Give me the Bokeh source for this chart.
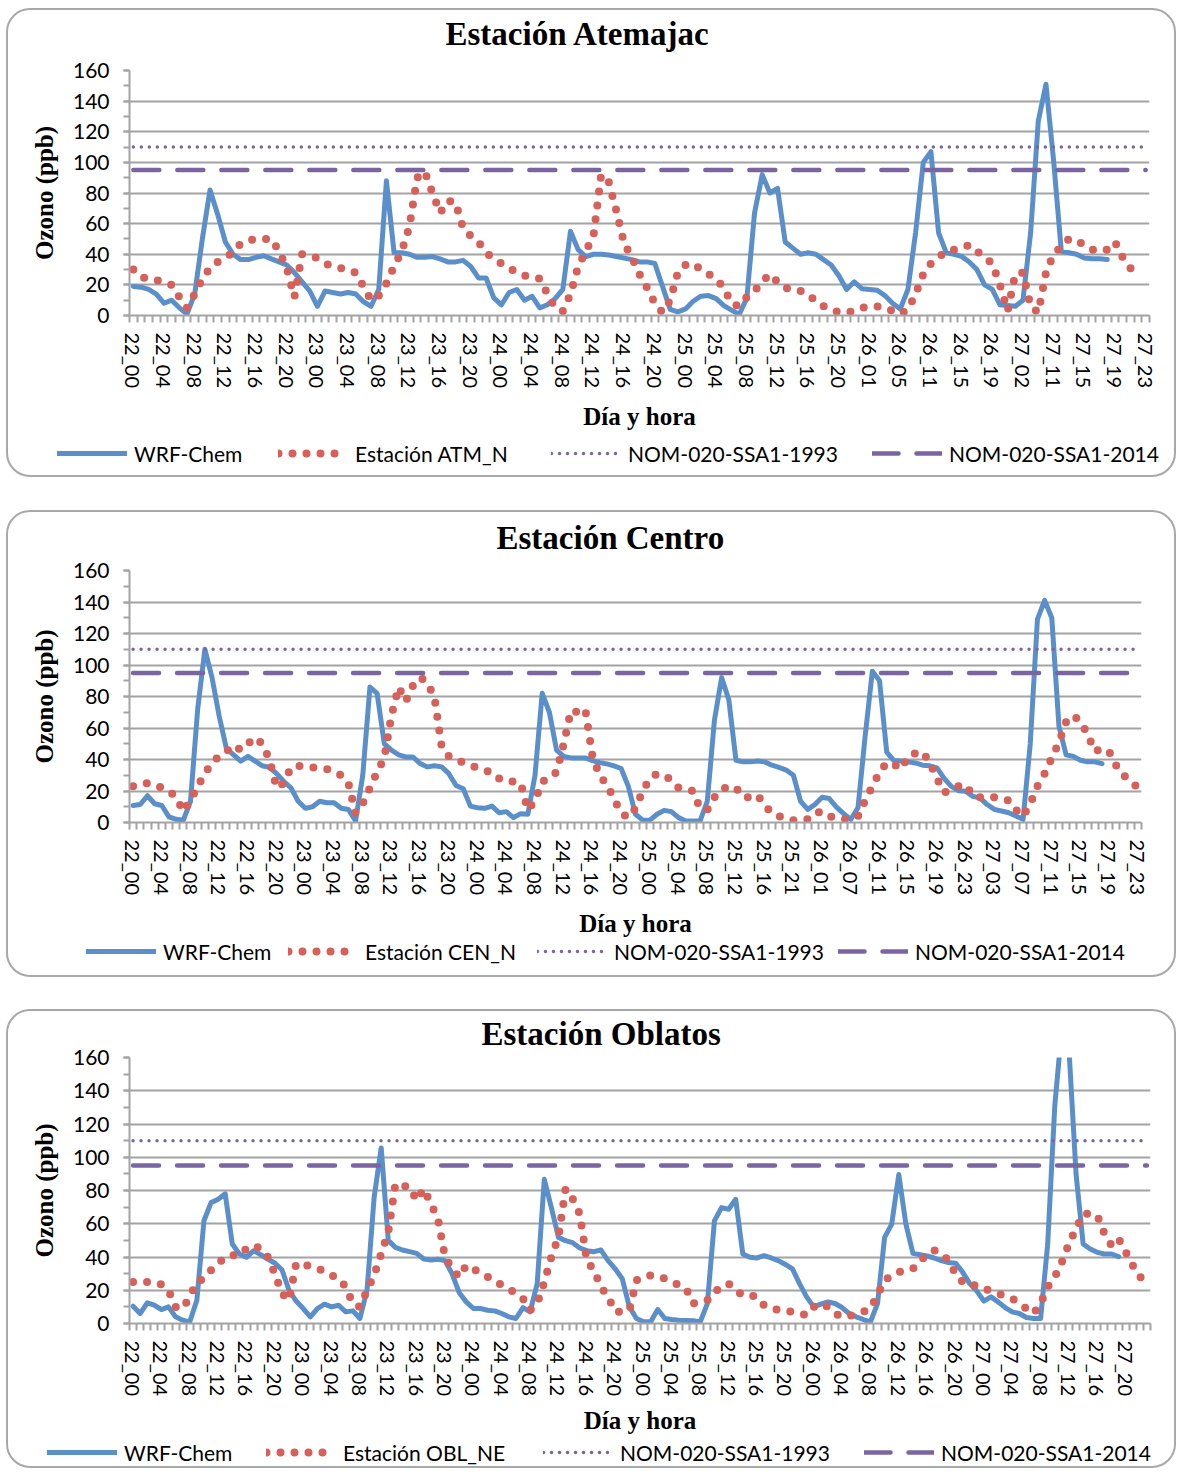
import math
from bokeh.plotting import figure
from bokeh.models import FixedTicker, SingleIntervalTicker, Legend, LegendItem, Range1d, Title
from bokeh.layouts import column
from bokeh.embed import file_html
from bokeh.resources import INLINE

# ---------------- data ----------------
DAYS = ["22", "23", "24", "25", "26", "27"]
ALL_HOURS = [f"{d}_{h:02d}" for d in DAYS for h in range(24)]

missing_atm = ["26_00", "26_06", "26_07", "26_23", "27_00", "27_01",
               "27_03", "27_04", "27_05", "27_06", "27_07"]
missing_cen = ["25_20", "26_04", "26_05"]
missing_obl = []

cats_atm = [c for c in ALL_HOURS if c not in missing_atm]
cats_cen = [c for c in ALL_HOURS if c not in missing_cen]
cats_obl = [c for c in ALL_HOURS if c not in missing_obl]

wrf_atm = [19, 18.5, 17, 14, 8, 10, 5, 1, 14, 50,
           82, 66, 48, 40, 36.5, 36.5, 38, 39, 37, 35,
           33, 28, 22, 16, 6, 16, 15, 14, 15, 14,
           9, 6, 17, 88, 41, 41, 40, 38, 38, 38.5,
           37, 35, 35, 36, 32, 24.5, 24.5, 11.5, 7, 15,
           17, 10, 12.5, 5, 7, 11, 17, 55, 43, 38.5,
           40, 40, 39.5, 38.5, 37.5, 36.5, 35, 35, 34, 19,
           4, 2.4, 4.3, 9.3, 12.6, 13, 11, 6.5, 3.5, 0.7,
           11.5, 67, 92, 80, 83, 48, 44, 40, 41, 40,
           36.5, 33, 26, 17, 22, 17.5, 17, 16.5, 13, 8,
           4.3, 17, 54, 100, 107, 54, 41, 40, 38.6, 35,
           30, 20, 17, 7, 6.5, 6, 10, 54, 127, 151,
           101, 42, 41, 40, 37.5, 37, 37, 36.5]
obs_atm = [30, 25, 24, 23, 22, 20, 12, 5, 14, 24,
           31, 35, 38, 41, 47, 49, 50, 50, 50, 42,
           31, 12, 40, 39, 37.5, 34, 32, 31, 30, 28,
           19, 10, 13, 21, 32, 42, 58, 90, 94, 80,
           67, 75, 74, 57, 52, 48, 41, 37, 34, 31,
           28, 26, 25, 24, 14, 5, 3, 14, 32, 42,
           52, 92, 87, 68, 47, 38, 27, 18, 8, 2,
           10, 28, 33, 34, 30, 27, 24, 18, 8, 6,
           12, 16, 22, 27, 22, 18, 17, 16, 14, 9,
           6, 4, 2, 2, 3, 5, 6, 6, 5, 3,
           1, 4, 14, 27, 34, 38, 42, 43, 44, 46,
           42, 38, 34, 20, 3, 27, 28, 6, 2, 28,
           40, 45, 50, 49, 46, 43, 42, 43, 48, 38, 31, 27]

wrf_cen = [10.8, 11.4, 17, 11.9, 10.8, 3.5, 2, 1.5, 13.5, 72,
           110, 92, 67.5, 47, 43, 39, 42, 39, 36, 35,
           31, 26, 22, 13.5, 9, 10, 13.5, 12.5, 12.5, 9,
           8.3, 1, 30, 86, 82, 50, 46, 43, 41.6, 41.6,
           37.4, 35.3, 36, 35.3, 31, 23.5, 21.4, 10.4, 9.4, 9,
           10.4, 6.2, 6.9, 3.1, 5.6, 5.2, 30, 82, 70, 46,
           42, 41, 41, 41, 39.3, 38, 37.2, 36, 34.3, 22.9,
           5.2, 1.5, 1.5, 5.2, 7.7, 6.9, 3.1, 1, 1, 1,
           13.5, 65, 92, 78, 39.5, 38.5, 38.5, 39, 38.5, 36.4,
           35, 33.3, 30, 13.5, 8.3, 11.4, 16, 15.2, 9.8, 5.6,
           2, 9.4, 55, 96, 90, 44.7, 39.3, 39, 38.5, 37.8,
           36.4, 36, 34.7, 28, 22.9, 20.2, 19.8, 16.6, 15.6, 11.4,
           8.3, 7.3, 6.2, 4.2, 2, 50, 129, 141, 130, 61,
           43, 42, 39.5, 38.5, 38.5, 37.4]
obs_cen = [23, 24, 25, 24, 22, 20, 16, 7, 14, 23,
           31, 38, 42, 45, 49, 46, 50, 54, 50, 40,
           22, 25, 35, 36, 35, 35, 34.5, 34, 32, 30,
           25, 6, 12, 22, 32, 41, 68, 86, 77, 87,
           92, 89, 79, 48, 42, 40, 38, 36, 35, 33,
           32, 28, 26, 26, 25, 8, 14, 26, 28, 32,
           50, 71, 70, 72, 42, 30, 24, 15, 6, 3,
           9, 20, 28, 31, 30, 27, 22, 21, 20, 9,
           8, 16, 21, 23, 22, 16, 16, 17.5, 11, 6,
           4, 2.5, 1.5, 2, 2, 6, 7, 4, 2.5, 2,
           2.5, 4, 14, 23, 32, 38, 37, 34, 42, 44,
           45, 38, 28, 19, 21, 23, 24, 17, 16, 16,
           16, 15.5, 14, 8, 4, 12, 23, 31, 41, 51,
           64, 68, 64, 56, 45, 47, 45, 36, 30, 26, 22]

wrf_obl = [10.4, 6, 12.4, 11, 8.4, 10, 4, 2, 1, 14,
           61.8, 72.7, 74.7, 78, 47.8, 41.8, 39.8, 43.8, 41.4, 38.8,
           36.3, 32.3, 20, 13.5, 9, 4, 9, 11.6, 10, 11,
           7, 7.6, 3, 20, 75.7, 105.6, 50, 45.8, 44.2, 43.2,
           42.2, 38.8, 38.2, 38.6, 37.8, 29.9, 18.5, 13, 9, 9,
           8, 7.6, 6, 4, 3, 9.6, 7, 24, 86.7, 69.7,
           51.8, 49.8, 48.6, 45.4, 43.8, 43.2, 44.2, 37.8, 32.9, 26.9,
           10, 3, 1, 1, 8.4, 3, 2.4, 2, 1.8, 1.6,
           1, 12, 61.8, 69.7, 68.7, 74.7, 41.8, 39.8, 39.4, 40.8,
           39.4, 37.8, 35.5, 32.9, 24, 16, 10, 11.6, 13, 12,
           9.6, 6, 4, 2.4, 1, 12, 51.8, 59.8, 89.6, 59.8,
           42.2, 41.4, 40.6, 39.4, 37.8, 36.7, 36.3, 30.9, 24, 19.5,
           13.5, 16, 13, 9.6, 7, 6, 3.6, 3, 3, 47.8,
           131, 178, 165, 90, 47.8, 44.8, 42.8, 41.8, 41.8, 40.2]
obs_obl = [25, 25, 25, 24, 23.5, 20, 10, 9, 16, 25,
           27, 32, 36, 40, 41, 41, 45, 47, 45, 40,
           30, 18, 14, 36, 36, 34, 33, 31.5, 29, 27,
           22, 12, 10, 20, 29, 42, 55, 84, 83, 82,
           74, 81, 72, 63, 40, 33, 28, 35, 33, 30,
           28, 26, 23, 21, 18, 15, 8, 12, 25, 40,
           52, 81, 75, 66, 38, 32, 22, 16, 7, 7,
           8, 26, 28, 29, 28, 27, 25, 23, 21, 12,
           13, 14, 19, 22, 24, 20, 17, 17, 16, 11,
           10, 8, 7.5, 7, 6, 5, 10, 12, 10, 6,
           4, 4.5, 5.5, 7, 9, 17, 26, 29, 31, 32,
           33, 38, 41, 44, 42, 38, 30, 25, 25, 22,
           21, 19.5, 18, 16.5, 15, 12, 9, 6, 12, 22,
           28, 37, 48, 57, 66, 66, 65, 54, 47, 51, 43, 35, 28, 26]

NOM_1993 = 110
NOM_2014 = 95

# ---------------- styles ----------------
BLUE = "#5b8fca"
RED = "#d6605a"
PURPLE = "#7a65a0"
GRID = "#a3a3a3"
SANS = "Lato"
SERIF = "Liberation Serif"
W = 1166
LEFT = 121
PAGE_X0 = 8          # 6 px margin + 2 px border
FRAME_LEFT_PAGE = PAGE_X0 + LEFT

STYLE_WRF = dict(line_color=BLUE, line_width=5, line_join="round", line_cap="round")
STYLE_OBS = dict(line_color=RED, line_width=8, line_dash="0 14", line_cap="round")
STYLE_93 = dict(line_color=PURPLE, line_width=3.5, line_dash="0 8", line_cap="round")
STYLE_14 = dict(line_color=PURPLE, line_width=4.5, line_dash="26 18", line_cap="round")


def make_chart(title, cats, wrf, obs, *, chart_h, top, frame_h, frame_w,
               title_left, title_gap, xlabel_standoff):
    n = len(cats)
    right = W - LEFT - frame_w
    bottom = chart_h - top - frame_h
    p = figure(width=W, height=chart_h, x_range=Range1d(-0.5, n - 0.5),
               y_range=Range1d(0, 160), output_backend="svg", toolbar_location=None,
               min_border_left=LEFT, min_border_right=right,
               min_border_top=top, min_border_bottom=bottom)
    p.frame_align = False
    p.border_fill_color = None
    p.background_fill_color = None
    p.outline_line_color = None

    # invisible spacer between frame and title, then the title itself
    p.add_layout(Title(text=" ", text_font_size="1px", standoff=title_gap), "above")
    p.add_layout(Title(text=title, text_font=SERIF, text_font_style="bold",
                       text_font_size="33px", text_color="black", align="left",
                       offset=title_left - FRAME_LEFT_PAGE, standoff=2), "above")

    p.xaxis.ticker = FixedTicker(ticks=list(range(0, n, 4)),
                                 minor_ticks=[k - 0.5 for k in range(n + 1)])
    p.xaxis.major_label_overrides = {i: cats[i] for i in range(0, n, 4)}
    p.xaxis.major_label_orientation = "vertical"
    p.xaxis.major_tick_out = 0
    p.xaxis.major_tick_in = 0
    p.xaxis.minor_tick_out = 7
    p.xaxis.minor_tick_in = 0
    p.xaxis.minor_tick_line_color = GRID
    p.xaxis.minor_tick_line_width = 2
    p.xaxis.axis_line_color = GRID
    p.xaxis.axis_line_width = 2
    p.xaxis.major_label_text_font = SANS
    p.xaxis.major_label_text_font_size = "20px"
    p.xaxis.major_label_text_color = "black"
    p.xaxis.major_label_standoff = 10
    p.xaxis.axis_label = "Día y hora"
    p.xaxis.axis_label_text_font = SERIF
    p.xaxis.axis_label_text_font_style = "bold"
    p.xaxis.axis_label_text_font_size = "25px"
    p.xaxis.axis_label_text_color = "black"
    p.xaxis.axis_label_standoff = xlabel_standoff

    p.yaxis.ticker = SingleIntervalTicker(interval=20, num_minor_ticks=2)
    p.yaxis.major_tick_out = 6
    p.yaxis.major_tick_in = 0
    p.yaxis.minor_tick_out = 6
    p.yaxis.minor_tick_in = 0
    p.yaxis.major_tick_line_color = GRID
    p.yaxis.minor_tick_line_color = GRID
    p.yaxis.major_tick_line_width = 2
    p.yaxis.minor_tick_line_width = 2
    p.yaxis.axis_line_color = GRID
    p.yaxis.axis_line_width = 2
    p.yaxis.major_label_text_font = SANS
    p.yaxis.major_label_text_font_size = "21px"
    p.yaxis.major_label_text_color = "black"
    p.yaxis.major_label_standoff = 14
    p.yaxis.axis_label = "Ozono (ppb)"
    p.yaxis.axis_label_text_font = SERIF
    p.yaxis.axis_label_text_font_style = "bold"
    p.yaxis.axis_label_text_font_size = "25px"
    p.yaxis.axis_label_text_color = "black"
    p.yaxis.axis_label_standoff = 12

    p.xgrid.grid_line_color = None
    p.ygrid.grid_line_color = GRID
    p.ygrid.grid_line_width = 2

    p.line(list(range(len(wrf))), wrf, **STYLE_WRF)
    p.line(list(range(len(obs))), obs, **STYLE_OBS)
    p.line(list(range(n)), [NOM_1993] * n, **STYLE_93)
    p.line(list(range(n)), [NOM_2014] * n, **STYLE_14)
    return p


def make_legend(obs_label, *, leg_h, lefts, center_y):
    f = figure(width=W, height=leg_h, x_range=Range1d(0, 1), y_range=Range1d(0, 1),
               output_backend="svg", toolbar_location=None, min_border=0,
               x_axis_type=None, y_axis_type=None)
    f.frame_align = False
    f.border_fill_color = None
    f.background_fill_color = None
    f.outline_line_color = None
    nan = float("nan")
    rs = [f.line([0.5], [nan], **STYLE_WRF), f.line([0.5], [nan], **STYLE_OBS),
          f.line([0.5], [nan], **STYLE_93), f.line([0.5], [nan], **STYLE_14)]
    labels = ["WRF-Chem", obs_label, "NOM-020-SSA1-1993", "NOM-020-SSA1-2014"]
    item_h = 25
    for lab, rr, lx in zip(labels, rs, lefts):
        lg = Legend(items=[LegendItem(label=lab, renderers=[rr], index=0)],
                    location=(lx - PAGE_X0, leg_h - center_y - item_h / 2),
                    orientation="horizontal", glyph_width=70, glyph_height=20,
                    label_height=20, label_standoff=7, padding=0, margin=0,
                    border_line_color=None, background_fill_alpha=0,
                    label_text_font=SANS, label_text_font_size="21px",
                    label_text_color="black")
        f.add_layout(lg, "center")
    return f


BOX = {"border": "2px solid #a8a8a8", "border-radius": "24px"}

c1 = make_chart("Estación Atemajac", cats_atm, wrf_atm, obs_atm,
                chart_h=423, top=60, frame_h=247, frame_w=1020,
                title_left=445, title_gap=15, xlabel_standoff=12)
l1 = make_legend("Estación ATM_N", leg_h=42, lefts=[57, 278, 551, 872], center_y=20)
c2 = make_chart("Estación Centro", cats_cen, wrf_cen, obs_cen,
                chart_h=428, top=58, frame_h=257, frame_w=1012,
                title_left=496, title_gap=11, xlabel_standoff=12)
l2 = make_legend("Estación CEN_N", leg_h=35, lefts=[86, 288, 537, 838], center_y=11)
c3 = make_chart("Estación Oblatos", cats_obl, wrf_obl, obs_obl,
                chart_h=426, top=46, frame_h=268, frame_w=1021,
                title_left=481, title_gap=2, xlabel_standoff=8)
l3 = make_legend("Estación OBL_NE", leg_h=29, lefts=[47, 266, 543, 864], center_y=15)

b1 = column(c1, l1, spacing=0, styles=BOX, margin=(8, 0, 0, 6))
b2 = column(c2, l2, spacing=0, styles=BOX, margin=(33, 0, 0, 6))
b3 = column(c3, l3, spacing=0, styles=BOX, margin=(32, 0, 0, 6))
layout = column(b1, b2, b3, spacing=0)
open("out.html", "w").write(file_html(layout, INLINE))
